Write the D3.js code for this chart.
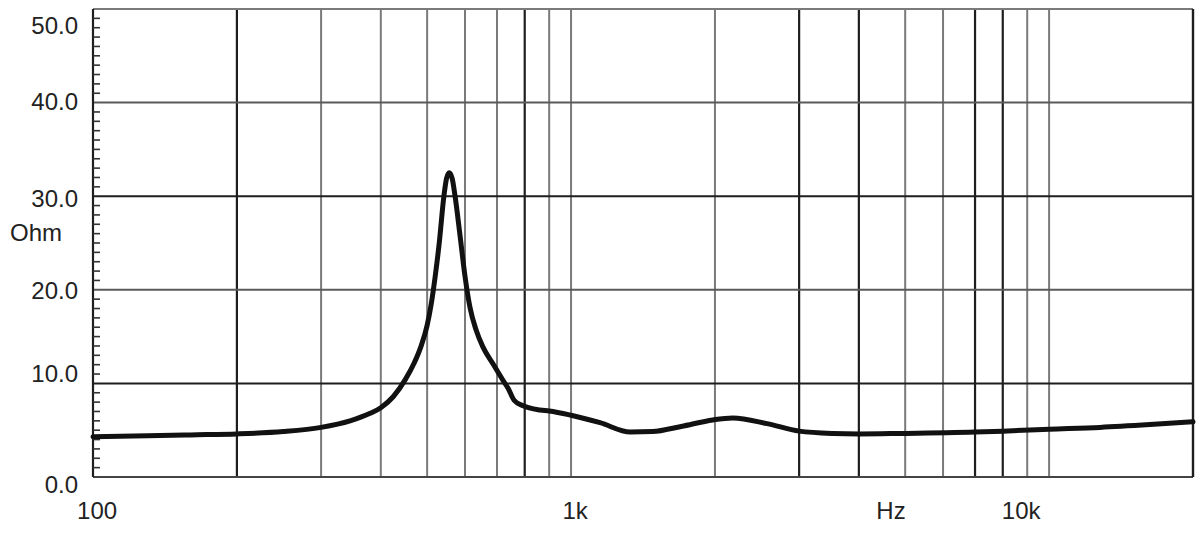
<!DOCTYPE html>
<html>
<head>
<meta charset="utf-8">
<script src="https://cdn.jsdelivr.net/npm/d3@7/dist/d3.min.js"></script>
<style>
  html, body { margin: 0; padding: 0; background: #fff; }
  svg { display: block; }
  text { font-family: "Liberation Sans", Arial, sans-serif; fill: #222; }
</style>
</head>
<body>
<svg id="chart" width="1200" height="536"></svg>
<script>
// ---- data ----
const freqs = [100, 130, 160, 200, 250, 300, 345, 380, 400, 425, 450, 470, 485, 500, 510, 520, 530, 542, 549, 556, 564, 572, 586, 600, 615, 633, 654, 687, 720, 738, 760, 794, 861, 900, 1000, 1150, 1330, 1480, 1700, 1980, 2180, 2570, 3000, 3530, 4000, 4880, 7000, 8000, 10000, 12780, 16260, 20000];
const ohms  = [4.3, 4.4, 4.5, 4.6, 4.85, 5.3, 6.0, 6.8, 7.4, 8.6, 10.4, 12.2, 13.9, 16.2, 18.5, 21.5, 25.0, 30.0, 31.9, 32.5, 31.9, 30.0, 25.75, 21.45, 18.05, 15.7, 13.9, 12.07, 10.35, 9.5, 8.2, 7.6, 7.15, 7.05, 6.6, 5.8, 4.8, 4.85, 5.4, 6.1, 6.3, 5.7, 4.9, 4.65, 4.6, 4.65, 4.8, 4.9, 5.1, 5.3, 5.6, 5.9];

const yTickValues = [0, 10, 20, 30, 40, 50];
const yTickLabels = ["0.0", "10.0", "20.0", "30.0", "40.0", "50.0"];
const yMinorStep = 1;

const gridFreqs = [200, 300, 400, 500, 600, 700, 800, 900, 1000, 2000, 3000, 4000, 5000, 6000, 7000, 8000, 9000, 10000];
const darkGridFreqs = [200, 800, 3000, 4000, 7000, 8000];
const darkGridOhms = [10, 30];

const xLabelTexts = ["100", "1k", "Hz", "10k"];
const xLabelFreqs = [102, 1020, 4670, 8740];
const yUnit = "Ohm";

// ---- layout ----
const L = 93, R = 1193, T = 9, B = 477;
const svg = d3.select("#chart");

const x = d3.scaleLog().domain([100, 20000]).range([L, R]);
const y = d3.scaleLinear().domain([0, 50]).range([B, T]);

const g = svg.append("g");

// vertical gridlines
g.selectAll("line.vg").data(gridFreqs).enter().append("line")
  .attr("x1", d => x(d)).attr("x2", d => x(d))
  .attr("y1", T).attr("y2", B)
  .attr("stroke", d => darkGridFreqs.includes(d) ? "#1e1e1e" : "#7a7a7a")
  .attr("stroke-width", d => darkGridFreqs.includes(d) ? 2.2 : 2);

// horizontal gridlines
g.selectAll("line.hg").data(yTickValues.filter(v => v > 0 && v < 50)).enter().append("line")
  .attr("x1", L).attr("x2", R)
  .attr("y1", d => y(d)).attr("y2", d => y(d))
  .attr("stroke", d => darkGridOhms.includes(d) ? "#1e1e1e" : "#5a5a5a")
  .attr("stroke-width", 2);

// borders
g.append("line").attr("x1", L).attr("x2", R).attr("y1", y(50)).attr("y2", y(50)).attr("stroke", "#7a7a7a").attr("stroke-width", 2);
g.append("line").attr("x1", L).attr("x2", R).attr("y1", y(0)).attr("y2", y(0)).attr("stroke", "#444").attr("stroke-width", 2);
g.append("line").attr("x1", x(100)).attr("x2", x(100)).attr("y1", T).attr("y2", B).attr("stroke", "#1e1e1e").attr("stroke-width", 2.2);
g.append("line").attr("x1", x(20000)).attr("x2", x(20000)).attr("y1", T).attr("y2", B).attr("stroke", "#1e1e1e").attr("stroke-width", 2.4);

// minor y ticks (inside, every 1 Ohm)
const minor = d3.range(1, 50, yMinorStep).filter(v => v % 10 !== 0);
g.selectAll("line.mt").data(minor).enter().append("line")
  .attr("x1", L).attr("x2", L + 7)
  .attr("y1", d => y(d)).attr("y2", d => y(d))
  .attr("stroke", "#333").attr("stroke-width", 1.6);

// y labels
const yLabelNudge = {0: 7, 10: -10, 20: 1, 30: 2, 40: -1, 50: 16};
g.selectAll("text.yl").data(yTickValues).enter().append("text")
  .attr("x", 78)
  .attr("y", d => y(d) + yLabelNudge[d])
  .attr("dy", "0.36em")
  .attr("text-anchor", "end")
  .attr("font-size", 24)
  .text((d, i) => yTickLabels[i]);

g.append("text").attr("x", 10).attr("y", y(26.1)).attr("dy", "0.36em")
  .attr("font-size", 24).text(yUnit);

// x labels
g.selectAll("text.xl").data(xLabelTexts).enter().append("text")
  .attr("x", (d, i) => x(xLabelFreqs[i]))
  .attr("y", 519)
  .attr("text-anchor", "middle")
  .attr("font-size", 24)
  .text(d => d);

// curve
const pts = freqs.map((f, i) => [f, ohms[i]]);
const line = d3.line().x(d => x(d[0])).y(d => y(d[1])).curve(d3.curveMonotoneX);
g.append("path").attr("d", line(pts))
  .attr("fill", "none").attr("stroke", "#111").attr("stroke-width", 5)
  .attr("stroke-linejoin", "round").attr("stroke-linecap", "round");
</script>
</body>
</html>
